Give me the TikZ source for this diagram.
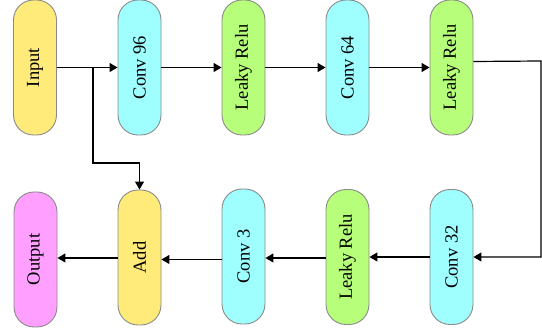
\documentclass[tikz,border=0pt]{standalone}
\usepackage{fontspec}
\setmainfont{Liberation Serif}
\usetikzlibrary{arrows.meta,calc}
\definecolor{cy}{HTML}{FFEB7A}
\definecolor{cc}{HTML}{9FFFFF}
\definecolor{cg}{HTML}{B7FF7A}
\definecolor{cm}{HTML}{FF9FFF}
\definecolor{bd}{HTML}{8A8A8A}
\begin{document}
\begin{tikzpicture}[x=1pt,y=1pt,
  blk/.style={draw=bd,line width=0.9pt,rounded corners=20pt,minimum width=43pt,minimum height=135pt,inner sep=0pt,font=\fontsize{18.5}{22}\selectfont},
  arr/.style={line width=1.2pt,-{Triangle[length=8pt,width=9pt]}},
  ln/.style={line width=1.2pt}]
\useasboundingbox (0,0) rectangle (542,-334);
\node[blk,fill=cy] (in) at (35,-67.5) {\rotatebox{90}{Input}};
\node[blk,fill=cc] (c96) at (139.5,-67.5) {\rotatebox{90}{Conv 96}};
\node[blk,fill=cg] (lr1) at (243.5,-67.5) {\rotatebox{90}{Leaky Relu}};
\node[blk,fill=cc] (c64) at (347.5,-67.5) {\rotatebox{90}{Conv 64}};
\node[blk,fill=cg] (lr2) at (451.5,-67.5) {\rotatebox{90}{Leaky Relu}};
\node[blk,fill=cm] (out) at (35.5,-259.5) {\rotatebox{90}{Output}};
\node[blk,fill=cy] (add) at (139.5,-257.5) {\rotatebox{90}{Add}};
\node[blk,fill=cc] (c3) at (243.5,-256.5) {\rotatebox{90}{Conv 3}};
\node[blk,fill=cg] (lr3) at (347.5,-257) {\rotatebox{90}{Leaky Relu}};
\node[blk,fill=cc] (c32) at (451.5,-257) {\rotatebox{90}{Conv 32}};
\draw[arr] (in) -- (c96);
\draw[arr] (c96) -- (lr1);
\draw[arr] (lr1) -- (c64);
\draw[arr] (c64) -- (lr2);
\coordinate (r) at (541,-61);
\draw[arr] ([yshift=6pt]lr2.east) -- (r) |- (c32.east);
\draw[arr] (c32.west) -- (c32.west -| lr3.east);
\draw[arr] ([yshift=-1pt]lr3.west) -- ([yshift=-1pt]lr3.west -| c3.east);
\draw[arr] ([yshift=-3pt]c3.west) -- ([yshift=-3pt]c3.west -| add.east);
\draw[arr] ([yshift=-0.5pt]add.west) -- ([yshift=-0.5pt]add.west -| out.east);
\coordinate (s) at (93,-67.5);
\coordinate (t) at (93,-163);
\draw[arr] (s) -- (t) -| (add.north);
\end{tikzpicture}
\end{document}
